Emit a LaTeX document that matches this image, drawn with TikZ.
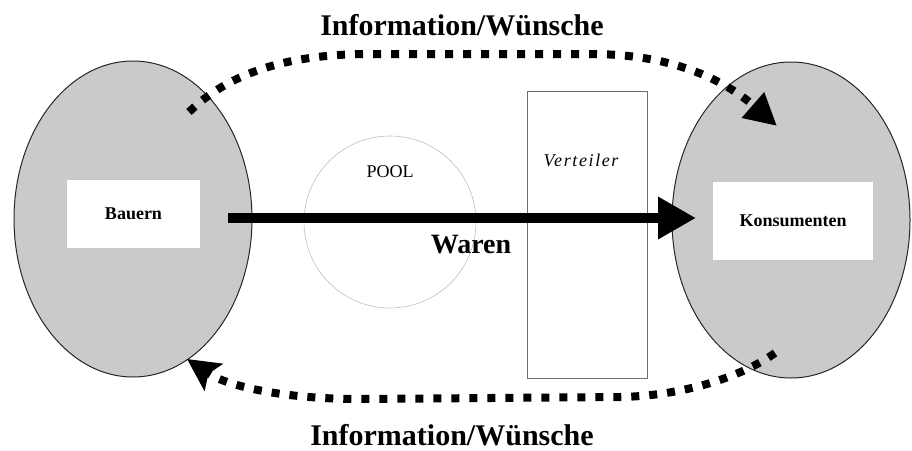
\documentclass[tikz,border=0pt]{standalone}
\usepackage{fontspec}
\setmainfont{Liberation Serif}
\newfontfamily\spacedit[LetterSpace=9]{Liberation Serif}
\usetikzlibrary{arrows.meta,shapes.geometric}
\definecolor{ellgray}{RGB}{202,202,202}
\definecolor{poolgray}{RGB}{190,190,190}
\definecolor{boxgray}{RGB}{110,110,110}
\begin{document}
\begin{tikzpicture}[x=1pt,y=-1pt,
  party/.style={ellipse,draw=black!85,line width=1pt,fill=ellgray,
    minimum width=238pt,minimum height=316pt,inner sep=0pt},
  whitebox/.style={rectangle,fill=white,draw=none,inner sep=0pt,
    font=\fontsize{18}{20}\selectfont\bfseries},
  infoline/.style={line width=8pt,dash pattern=on 8pt off 10pt},
  waresline/.style={line width=10pt,-{Triangle[length=38pt,width=40pt]}},
  bigtitle/.style={anchor=base,inner sep=0pt,font=\fontsize{30}{32}\selectfont\bfseries},
]
\useasboundingbox (0,0) rectangle (912,450);
% parties
\node[party] (bauernell) at (133,219) {};
\node[party] (konsell) at (791,220) {};
\node[whitebox,minimum width=133pt,minimum height=68pt] (bauern) at (133.5,214) {Bauern};
\node[whitebox,minimum width=160pt,minimum height=78pt] (kons) at (793,221) {Konsumenten};
% pool and distributor
\node[circle,draw=poolgray,line width=0.6pt,minimum size=172pt,inner sep=0pt] (pool) at (390,222) {};
\node[anchor=base,inner sep=0pt,font=\fontsize{18}{20}\selectfont] (pooltxt) at (390,177) {POOL};
\node[rectangle,draw=boxgray,line width=0.8pt,minimum width=120pt,minimum height=287pt,inner sep=0pt] (vert) at (587,234.5) {};
\node[anchor=base,inner sep=0pt,font=\spacedit\fontsize{18}{20}\selectfont\itshape] (verttxt) at (581,166) {Verteiler};
% goods arrow
\coordinate (wstart) at (228,218);
\coordinate (wend) at (696,218);
\draw[waresline] (wstart) -- (wend);
\node[anchor=base,inner sep=0pt,font=\fontsize{28}{30}\selectfont\bfseries] (waren) at (471,253) {Waren};
% information arcs
\coordinate (tstart) at (189,112);
\coordinate (tend) at (777,126);
\draw[infoline,-{Triangle[length=32pt,width=32pt]}] (tstart) .. controls (230,72) and (290,54) .. (370,54)
   -- (590,54) .. controls (680,54) and (730,85) .. (tend);
\coordinate (bstart) at (775,353);
\coordinate (bend) at (187,359);
\draw[infoline,-{Stealth[length=32pt,width=32pt,inset=6pt]}] (bstart) .. controls (740,378) and (680,396) .. (620,397)
   -- (360,399) .. controls (280,399) and (225,385) .. (bend);
\node[bigtitle] (toptitle) at (462,35) {Information/Wünsche};
\node[bigtitle] (bottitle) at (452,445) {Information/Wünsche};
\end{tikzpicture}
\end{document}
